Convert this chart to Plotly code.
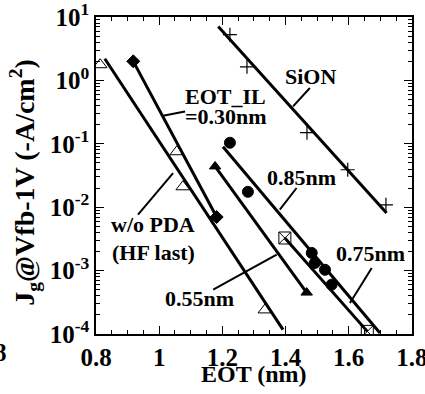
import plotly.graph_objects as go

# Gate leakage Jg @ Vfb-1V (A/cm^2, magnitude) vs. EOT (nm)

# w/o PDA (HF last): measured points and fitted line
eot_hf = [0.813, 1.056, 1.075, 1.335]
jg_hf = [1.77, 0.075, 0.021, 2.4e-4]
fit_hf_eot = [0.828, 1.392]
fit_hf_jg = [2.2, 1.17e-4]

# EOT_IL = 0.30 nm
eot_030 = [0.918, 1.182]
jg_030 = [2.0, 0.0070]

# EOT_IL = 0.55 nm
eot_055 = [1.177, 1.467]
jg_055 = [0.044, 4.5e-4]

# EOT_IL = 0.75 nm
eot_075 = [1.398, 1.659]
jg_075 = [0.00327, 1.10e-4]

# EOT_IL = 0.85 nm: measured points and fitted line
eot_085 = [1.224, 1.281, 1.483, 1.493, 1.525, 1.546]
jg_085 = [0.104, 0.0175, 0.0019, 0.00132, 0.00103, 0.0006]
fit_085_eot = [1.202, 1.699]
fit_085_jg = [0.090, 1.04e-4]

# SiON reference: measured points and fitted line
eot_sion = [1.224, 1.278, 1.468, 1.597, 1.718]
jg_sion = [5.26, 1.64, 0.150, 0.039, 0.0109]
fit_sion_eot = [1.187, 1.72]
fit_sion_jg = [7.1, 0.0081]

x_tick_vals = [0.8, 1.0, 1.2, 1.4, 1.6, 1.8]
x_tick_text = ["0.8", "1", "1.2", "1.4", "1.6", "1.8"]
y_tick_vals = [1e-4, 1e-3, 1e-2, 1e-1, 1e0, 1e1]
y_tick_text = ["10<sup>-4</sup>", "10<sup>-3</sup>", "10<sup>-2</sup>",
               "10<sup>-1</sup>", "10<sup>0</sup>", "10<sup>1</sup>"]
# minor ticks at 2..9 within each decade
y_minor_vals = [m * d for d in y_tick_vals[:-1] for m in range(2, 10)]

FONT = "Liberation Serif"
BLACK = "black"
LW = 3

fig = go.Figure()

# fitted lines first, so markers sit on top
for xs, ys in [(fit_hf_eot, fit_hf_jg), (eot_030, jg_030), (eot_055, jg_055),
               (eot_075, jg_075), (fit_085_eot, fit_085_jg),
               (fit_sion_eot, fit_sion_jg)]:
    fig.add_trace(go.Scatter(x=xs, y=ys, mode="lines",
                             line=dict(color=BLACK, width=LW),
                             showlegend=False, hoverinfo="skip"))

def markers(xs, ys, symbol, size, lw=1):
    fig.add_trace(go.Scatter(
        x=xs, y=ys, mode="markers", showlegend=False,
        marker=dict(symbol=symbol, size=size, color=BLACK,
                    line=dict(color=BLACK, width=lw))))

markers(eot_hf, jg_hf, "triangle-up-open", 12)
markers(eot_030, jg_030, "diamond", 10)
markers(eot_055, jg_055, "triangle-up", 10)
markers(eot_075, jg_075, "square-x-open", 12)
markers(eot_085, jg_085, "circle", 11)
markers(eot_sion, jg_sion, "cross-thin-open", 10, 1.2)

# labels (annotation y is log10 on the log axis)
def label(text, x, logy):
    fig.add_annotation(x=x, y=logy, text=text, showarrow=False,
                       font=dict(family=FONT, size=22, color=BLACK, weight="bold"),
                       xanchor="center", yanchor="middle")

label("SiON", 1.48, 0.058)
label("EOT_IL", 1.211, -0.257)
label("=0.30nm", 1.211, -0.573)
label("0.85nm", 1.452, -1.527)
label("w/o PDA", 0.982, -2.276)
label("(HF last)", 0.982, -2.71)
label("0.55nm", 1.129, -3.435)
label("0.75nm", 1.670, -2.726)

# leader lines from labels to their fitted lines (shape y in data units)
leaders = [
    ((1.477, 0.759), (1.424, 0.389)),     # SiON
    ((1.082, 0.324), (1.012, 0.277)),     # EOT_IL=0.30nm
    ((1.435, 0.0201), (1.382, 0.00913)),  # 0.85nm
    ((0.933, 0.00762), (1.044, 0.0346)),  # w/o PDA
    ((1.171, 5.0e-4), (1.372, 1.78e-3)),  # 0.55nm
    ((1.673, 1.10e-3), (1.604, 3.08e-4)),  # 0.75nm
]
for (x0, y0), (x1, y1) in leaders:
    fig.add_shape(type="line", x0=x0, y0=y0, x1=x1, y1=y1,
                  xref="x", yref="y", line=dict(color=BLACK, width=2))

# axis titles
fig.add_annotation(xref="paper", yref="paper", x=0.5, y=-0.125,
                   text="EOT (nm)", showarrow=False,
                   xanchor="center", yanchor="middle",
                   font=dict(family=FONT, size=24, color=BLACK, weight="bold"))
fig.add_annotation(xref="paper", yref="paper", x=-0.226, y=0.479,
                   text="J<sub>g</sub>@Vfb-1V (-A/cm<sup>2</sup>)",
                   showarrow=False, textangle=-90,
                   xanchor="center", yanchor="middle",
                   font=dict(family=FONT, size=28, color=BLACK, weight="bold"))

# edge of the neighbouring panel's tick label
fig.add_annotation(xref="paper", yref="paper", x=-0.301, y=-0.057,
                   text="8", showarrow=False, xanchor="center", yanchor="middle",
                   font=dict(family=FONT, size=25, color=BLACK, weight="bold"))

axis_common = dict(
    showline=True, linecolor=BLACK, linewidth=1.5, mirror="ticks",
    ticks="inside", ticklen=8, tickwidth=1, tickcolor=BLACK,
    showgrid=False, zeroline=False, ticklabeloverflow="allow",
    tickfont=dict(family=FONT, size=25, color=BLACK, weight="bold"),
)

fig.update_xaxes(
    range=[0.8, 1.8005],
    tickmode="array", tickvals=x_tick_vals, ticktext=x_tick_text,
    minor=dict(ticks="inside", ticklen=4, tickwidth=1, tickcolor=BLACK,
               tick0=0.8, dtick=0.05, showgrid=False),
    **axis_common)

fig.update_yaxes(
    type="log", range=[-4, 1.0005],
    tickmode="array", tickvals=y_tick_vals, ticktext=y_tick_text,
    minor=dict(ticks="inside", ticklen=4, tickwidth=1, tickcolor=BLACK,
               tickmode="array", tickvals=y_minor_vals, showgrid=False),
    **axis_common)

fig.update_layout(
    width=425, height=394,
    margin=dict(l=96, r=13, t=17, b=60, autoexpand=False),
    paper_bgcolor="white", plot_bgcolor="white",
    showlegend=False,
)

fig.write_html("out.html")
